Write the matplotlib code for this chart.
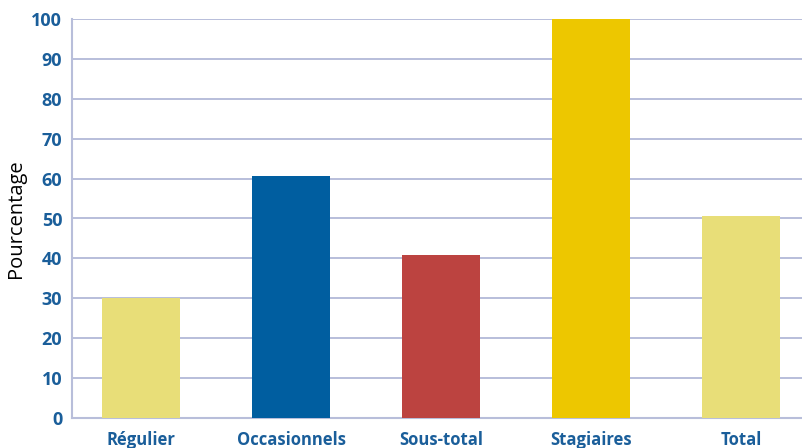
import matplotlib
matplotlib.use("Agg")
import matplotlib.pyplot as plt

categories = ["Régulier", "Occasionnels", "Sous-total", "Stagiaires", "Total"]
values = [30.2, 60.7, 40.9, 100.0, 50.7]
colors = ["#E8DE78", "#005EA0", "#BC4340", "#EDC700", "#E8DE78"]
yticks = [0, 10, 20, 30, 40, 50, 60, 70, 80, 90, 100]

tick_color = "#1A5E9A"
grid_color = "#B8BEDA"

fig = plt.figure(figsize=(8.03, 4.48), dpi=100)
ax = fig.add_axes([72/803, 30/448, 1 - 72/803, (418-19)/448])

x = list(range(len(categories)))
ax.bar(x, values, width=0.52, color=colors, zorder=3, clip_on=False)

ax.set_xlim(-0.46, 4.41)
ax.set_ylim(0, 100)
ax.set_yticks(yticks)
ax.set_yticklabels([str(t) for t in yticks], fontsize=13, fontweight="bold",
                   color=tick_color, family="Open Sans")
ax.set_xticks(x)
ax.set_xticklabels(categories, fontsize=12, fontweight="bold",
                   color=tick_color, family="Open Sans")
ax.tick_params(axis="both", length=0)
ax.tick_params(axis="y", pad=7)
ax.tick_params(axis="x", pad=9)

ax.yaxis.grid(True, color=grid_color, linewidth=1.4, zorder=0)
ax.set_axisbelow(True)
for s in ["top", "right"]:
    ax.spines[s].set_visible(False)
for s in ["left", "bottom"]:
    ax.spines[s].set_color(grid_color)
    ax.spines[s].set_linewidth(1.5)

ax.set_ylabel("Pourcentage", fontsize=14.5, color="black", family="Open Sans", labelpad=4)

fig.savefig("out.png", dpi=100)
